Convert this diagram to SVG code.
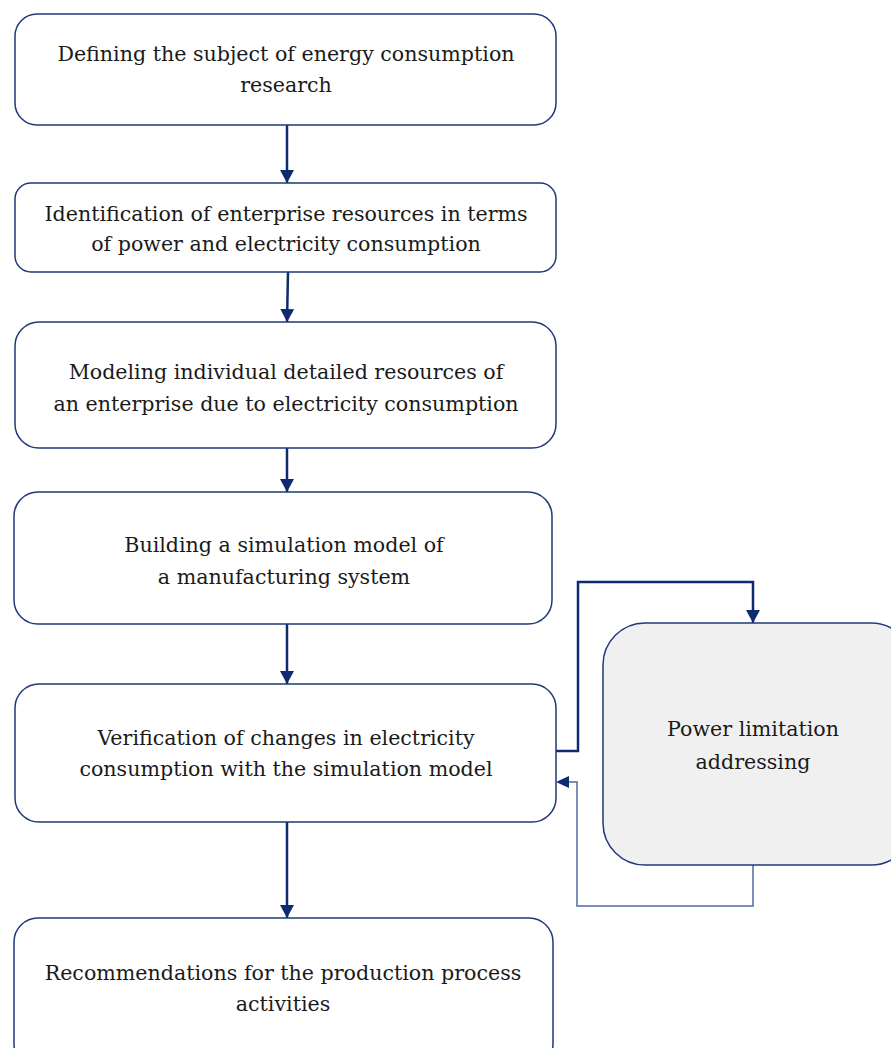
<svg xmlns="http://www.w3.org/2000/svg" width="891" height="1048" viewBox="0 0 891 1048">
<defs>
<style>
.box{fill:#ffffff;stroke:#1f3a78;stroke-width:1.5}
.gbox{fill:#f0f0f0;stroke:#1f3a78;stroke-width:1.5}
.t{font-family:"DejaVu Serif","Liberation Serif",serif;font-size:20.6px;fill:#1a1a1a;text-anchor:middle}
.c{fill:none;stroke:#0d2b6e;stroke-width:2.5}
.c2{fill:none;stroke:#4d6aa3;stroke-width:1.5}
</style>
<marker id="ah" markerWidth="13" markerHeight="14" refX="13" refY="7" orient="auto" markerUnits="userSpaceOnUse" viewBox="0 0 13 14">
<path d="M0,0 L13,7 L0,14 z" fill="#0d2b6e"/>
</marker>
</defs>
<rect width="891" height="1048" fill="#ffffff"/>
<g id="connectors">
<line class="c" x1="287" y1="125" x2="287" y2="183" marker-end="url(#ah)"/>
<line class="c" x1="288" y1="272" x2="287" y2="322" marker-end="url(#ah)"/>
<line class="c" x1="287" y1="448" x2="287" y2="492" marker-end="url(#ah)"/>
<line class="c" x1="287" y1="624" x2="287" y2="684" marker-end="url(#ah)"/>
<line class="c" x1="287" y1="822" x2="287" y2="918" marker-end="url(#ah)"/>
<polyline class="c" points="556,751 578,751 578,582 753,582 753,623" marker-end="url(#ah)"/>
<polyline class="c2" points="753,865 753,906 577,906 577,782 568,782"/>
<path d="M556,782 L569,776 L569,788 z" fill="#0d2b6e"/>
</g>
<g id="n1"><rect class="box" x="15" y="14" width="541" height="111" rx="22"/>
<text class="t" x="286" y="61">Defining the subject of energy consumption</text>
<text class="t" x="286" y="92">research</text></g>
<g id="n2"><rect class="box" x="15" y="183" width="541" height="89" rx="16"/>
<text class="t" x="286" y="221">Identification of enterprise resources in terms</text>
<text class="t" x="286" y="251">of power and electricity consumption</text></g>
<g id="n3"><rect class="box" x="15" y="322" width="541" height="126" rx="24"/>
<text class="t" x="286" y="379">Modeling individual detailed resources of</text>
<text class="t" x="286" y="411">an enterprise due to electricity consumption</text></g>
<g id="n4"><rect class="box" x="14" y="492" width="538" height="132" rx="24"/>
<text class="t" x="284" y="552">Building a simulation model of</text>
<text class="t" x="284" y="584">a manufacturing system</text></g>
<g id="n5"><rect class="box" x="15" y="684" width="541" height="138" rx="24"/>
<text class="t" x="286" y="745">Verification of changes in electricity</text>
<text class="t" x="286" y="776">consumption with the simulation model</text></g>
<g id="n6"><rect class="box" x="14" y="918" width="539" height="150" rx="24"/>
<text class="t" x="283" y="980">Recommendations for the production process</text>
<text class="t" x="283" y="1011">activities</text></g>
<g id="n7"><rect class="gbox" x="603" y="623" width="310" height="242" rx="42"/>
<text class="t" x="753" y="736">Power limitation</text>
<text class="t" x="753" y="769">addressing</text></g>
</svg>
